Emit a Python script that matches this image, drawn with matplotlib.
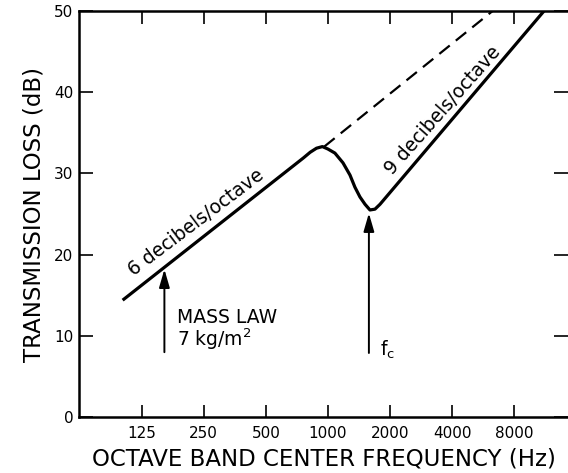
import numpy as np
import matplotlib.pyplot as plt

# ---- data ----
tick_freqs = [125, 250, 500, 1000, 2000, 4000, 8000]
tick_labels = ['125', '250', '500', '1000', '2000', '4000', '8000']
y_ticks = [0, 10, 20, 30, 40, 50]

# solid curve: mass law line (6 dB/oct), coincidence dip, then 9 dB/oct line
curve_freq = [101, 760, 820, 880, 940, 1000, 1081, 1183, 1279, 1352, 1430, 1513, 1599, 1691, 1789, 11180]
curve_tl = [14.4, 31.9, 32.6, 33.1, 33.3, 33.0, 32.5, 31.3, 29.8, 28.3, 27.1, 26.2, 25.5, 25.6, 26.2, 50.0]

# dashed continuation of mass law
dash_freq = [960, 6300]
dash_tl = [33.3, 50.0]

# arrows (freq, tail, tip)
mass_arrow = (161, 8.0, 18.2)
fc_arrow = (1580, 7.9, 25.1)

plt.rcParams['font.family'] = ['DejaVu Sans']

fig = plt.figure(figsize=(5.68, 4.73), dpi=100)
ax = fig.add_axes([0.139, 0.118, 0.861, 0.859])

ax.set_xscale('log', base=2)
ax.set_xlim(62, 14600)
ax.set_ylim(0, 50)

ax.plot(curve_freq, curve_tl, color='black', lw=2.3, solid_capstyle='butt',
        solid_joinstyle='round', zorder=3)
ax.plot(dash_freq, dash_tl, color='black', lw=1.6, ls=(0, (6, 3.5)), zorder=3)

# arrows
for f, y0, y1 in [mass_arrow, fc_arrow]:
    ax.annotate('', xy=(f, y1), xytext=(f, y0),
                arrowprops=dict(arrowstyle='-|>,head_length=1.1,head_width=0.32',
                                color='black', lw=1.4, shrinkA=0, shrinkB=0))

ax.text(185, 10.7, 'MASS LAW\n7 kg/m$^\\mathregular{2}$', fontsize=13.5, va='center', ha='left',
        linespacing=1.0)
ax.text(1790, 8.3, r'$\mathregular{f_c}$', fontsize=13.5, va='center', ha='left')

ax.text(230, 23.9, '6 decibels/octave', fontsize=13.5, rotation=37,
        rotation_mode='anchor', ha='center', va='center')
ax.text(3616, 37.7, '9 decibels/octave', fontsize=13.5, rotation=48.5,
        rotation_mode='anchor', ha='center', va='center')

# axes styling
ax.set_xticks(tick_freqs)
ax.set_xticklabels(tick_labels)
ax.xaxis.set_minor_locator(plt.NullLocator())
ax.set_yticks(y_ticks)
ax.tick_params(axis='both', direction='in', labelsize=11, width=1.2, color='black')
ax.tick_params(axis='x', length=9, top=True, pad=6)
ax.tick_params(axis='y', length=10, right=True, pad=4)

for s in ['left', 'bottom', 'top']:
    ax.spines[s].set_linewidth(1.8)
ax.spines['right'].set_visible(False)

ax.set_xlabel('OCTAVE BAND CENTER FREQUENCY (Hz)', fontsize=16.5, labelpad=5)
ax.set_ylabel('TRANSMISSION LOSS (dB)', fontsize=16.5, labelpad=6)

fig.savefig('out.png', dpi=100)
